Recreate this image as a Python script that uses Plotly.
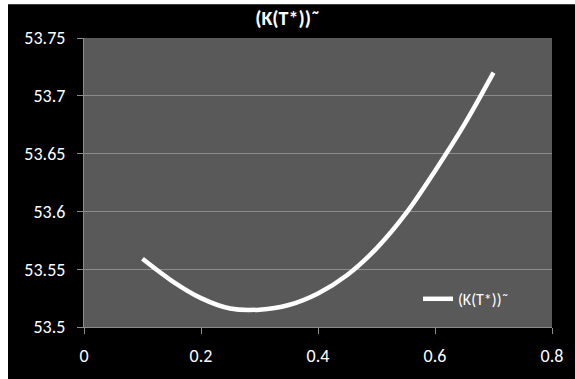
import plotly.graph_objects as go

x_vals = [0.1, 0.15, 0.2, 0.25, 0.3, 0.35, 0.4, 0.45, 0.5, 0.55, 0.6, 0.65, 0.7]
k_vals = [53.559, 53.540, 53.525, 53.516, 53.515, 53.519, 53.529, 53.545,
          53.568, 53.598, 53.635, 53.675, 53.720]
series_name = "(K(T*))˜"
chart_title = "(K(T*))˜"
x_ticks = [0, 0.2, 0.4, 0.6, 0.8]
y_ticks = [53.5, 53.55, 53.6, 53.65, 53.7, 53.75]

FONT = "Carlito, Lato, sans-serif"

fig = go.Figure()
fig.add_trace(go.Scatter(
    x=x_vals, y=k_vals, mode="lines", name=series_name,
    line=dict(color="white", width=4.5, shape="spline", smoothing=1.0),
    showlegend=True,
))

W, H = 575, 379
L, R, T, B = 84, 23, 38, 50
pw, ph = W - L - R, H - T - B

fig.update_layout(
    width=W, height=H,
    margin=dict(l=L, r=R, t=T, b=B, pad=0),
    paper_bgcolor="black",
    plot_bgcolor="#595959",
    font=dict(family=FONT, color="white", size=17),
    title=dict(text="<b>" + chart_title + "</b>", x=0.5, xref="container",
               xanchor="center", y=1 - 18 / H, yref="container", yanchor="middle",
               font=dict(size=20, color="white", family=FONT)),
    showlegend=True,
    legend=dict(x=(418 - L) / pw, y=(329 - 300.7) / ph, xanchor="left", yanchor="middle",
                bgcolor="rgba(0,0,0,0)", font=dict(size=16, color="white", family=FONT)),
    xaxis=dict(range=[0, 0.8], tickvals=x_ticks, ticktext=[str(v) for v in x_ticks],
               showgrid=False, zeroline=False, showline=True, linecolor="#8c8c8c",
               linewidth=1, ticks="outside", ticklen=6, tickcolor="#8c8c8c",
               tickfont=dict(size=18, color="white", family=FONT), ticklabelstandoff=6),
    yaxis=dict(range=[53.5, 53.75], tickvals=y_ticks, ticktext=[str(v) for v in y_ticks],
               showgrid=True, gridcolor="#8c8c8c", gridwidth=1, zeroline=False,
               showline=True, linecolor="#8c8c8c", linewidth=1, ticks="outside",
               ticklen=6, tickcolor="#8c8c8c",
               tickfont=dict(size=18, color="white", family=FONT), ticklabelstandoff=8),
)

# white strips at left and top edges of the image
fig.add_shape(type="rect", xref="paper", yref="paper", layer="above",
              x0=-L / pw - 0.01, x1=(8 - L) / pw, y0=-B / ph - 0.01, y1=(H - B) / ph + 0.01,
              fillcolor="white", line=dict(width=0))
fig.add_shape(type="rect", xref="paper", yref="paper", layer="above",
              x0=-L / pw - 0.01, x1=(W - L) / pw + 0.01, y0=(H - B - 4) / ph, y1=(H - B) / ph + 0.01,
              fillcolor="white", line=dict(width=0))

fig.write_html("out.html")
